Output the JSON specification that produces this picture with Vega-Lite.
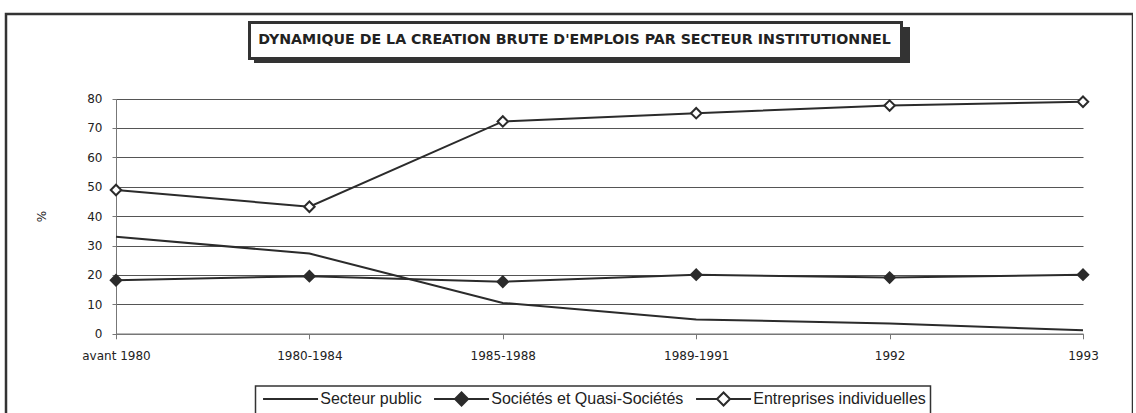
{
  "$schema": "https://vega.github.io/schema/vega-lite/v6.json",
  "autosize": {"type": "none"},
  "padding": {"left": 6, "top": 14, "right": 0, "bottom": 0},
  "width": 1127,
  "height": 420,
  "background": "white",
  "config": {
    "view": {"stroke": "#333333", "strokeWidth": 2.5},
    "font": "DejaVu Sans",
    "legend": {"strokeWidth": 1.5},
    "axis": {
      "labelFont": "DejaVu Sans",
      "labelFontSize": 12,
      "labelColor": "#222222",
      "domainColor": "#777777",
      "tickColor": "#777777",
      "titleFont": "DejaVu Sans",
      "titleFontSize": 12,
      "titleFontWeight": "normal",
      "titleColor": "#222222"
    }
  },
  "data": {
    "values": [
      {"periode": "avant 1980", "serie": "Secteur public", "valeur": 33.0},
      {"periode": "1980-1984", "serie": "Secteur public", "valeur": 27.3},
      {"periode": "1985-1988", "serie": "Secteur public", "valeur": 10.5},
      {"periode": "1989-1991", "serie": "Secteur public", "valeur": 4.9},
      {"periode": "1992", "serie": "Secteur public", "valeur": 3.5},
      {"periode": "1993", "serie": "Secteur public", "valeur": 1.2},
      {"periode": "avant 1980", "serie": "Sociétés et Quasi-Sociétés", "valeur": 18.2},
      {"periode": "1980-1984", "serie": "Sociétés et Quasi-Sociétés", "valeur": 19.6},
      {"periode": "1985-1988", "serie": "Sociétés et Quasi-Sociétés", "valeur": 17.7},
      {"periode": "1989-1991", "serie": "Sociétés et Quasi-Sociétés", "valeur": 20.1},
      {"periode": "1992", "serie": "Sociétés et Quasi-Sociétés", "valeur": 19.1},
      {"periode": "1993", "serie": "Sociétés et Quasi-Sociétés", "valeur": 20.1},
      {"periode": "avant 1980", "serie": "Entreprises individuelles", "valeur": 48.9},
      {"periode": "1980-1984", "serie": "Entreprises individuelles", "valeur": 43.2},
      {"periode": "1985-1988", "serie": "Entreprises individuelles", "valeur": 72.2},
      {"periode": "1989-1991", "serie": "Entreprises individuelles", "valeur": 75.0},
      {"periode": "1992", "serie": "Entreprises individuelles", "valeur": 77.6},
      {"periode": "1993", "serie": "Entreprises individuelles", "valeur": 78.9}
    ]
  },
  "layer": [
    {
      "mark": {"type": "line", "stroke": "#2b2b2b", "strokeWidth": 2},
      "encoding": {
        "x": {
          "field": "periode", "type": "ordinal",
          "sort": ["avant 1980", "1980-1984", "1985-1988", "1989-1991", "1992", "1993"],
          "scale": {"type": "point", "range": [110, 1077], "padding": 0},
          "axis": {"title": null, "offset": -100.2, "labelAngle": 0, "tickSize": 5, "labelPadding": 12, "grid": false, "domainWidth": 1.5}
        },
        "y": {
          "field": "valeur", "type": "quantitative",
          "scale": {"domain": [0, 80], "range": [319.8, 84.5], "nice": false},
          "axis": {"title": "%", "offset": -110, "values": [0, 10, 20, 30, 40, 50, 60, 70, 80], "grid": true, "gridColor": "#555555", "gridWidth": 1, "tickSize": 4, "labelPadding": 10, "titlePadding": 38}
        },
        "detail": {"field": "serie"}
      }
    },
    {
      "transform": [{"filter": "datum.serie !== 'Secteur public'"}],
      "mark": {"type": "point", "shape": "diamond", "size": 110, "filled": true, "stroke": "#2b2b2b", "strokeWidth": 2, "opacity": 1},
      "encoding": {
        "x": {"field": "periode", "type": "ordinal", "sort": ["avant 1980", "1980-1984", "1985-1988", "1989-1991", "1992", "1993"]},
        "y": {"field": "valeur", "type": "quantitative"},
        "fill": {
          "field": "serie", "type": "nominal",
          "scale": {"domain": ["Secteur public", "Sociétés et Quasi-Sociétés", "Entreprises individuelles"], "range": ["white", "#2b2b2b", "white"]}
        }
      }
    },
    {
      "transform": [{"filter": "false"}],
      "mark": {"type": "point", "filled": true, "strokeWidth": 2, "opacity": 1},
      "encoding": {
        "x": {"field": "periode", "type": "ordinal", "sort": ["avant 1980", "1980-1984", "1985-1988", "1989-1991", "1992", "1993"]},
        "y": {"field": "valeur", "type": "quantitative"},
        "shape": {
          "field": "serie", "type": "nominal",
          "scale": {
            "domain": ["Secteur public", "Sociétés et Quasi-Sociétés", "Entreprises individuelles"],
            "range": [
              "M-1,-0.9375M-1,0.9375M-0.65,0H6.225",
              "M-1,-0.9375M-1,0.9375M-0.65,0H1.975M3.6,0H6.225M1.975,0L2.7875,-0.8125L3.6,0L2.7875,0.8125Z",
              "M-1,-0.9375M-1,0.9375M-0.65,0H1.975M3.6,0H6.225M1.975,0L2.7875,-0.8125L3.6,0L2.7875,0.8125Z"
            ]
          },
          "legend": {
            "orient": "none", "legendX": 249.5, "legendY": 372, "direction": "horizontal", "title": null,
            "symbolSize": 256, "symbolStrokeWidth": 2, "labelOffset": 43,
            "labelFont": "Liberation Sans", "labelFontSize": 16, "labelColor": "#222222", "labelLimit": 1000,
            "columnPadding": 5, "padding": 3.75, "strokeColor": "#333333", "fillColor": "white"
          }
        },
        "fill": {
          "field": "serie", "type": "nominal",
          "scale": {"domain": ["Secteur public", "Sociétés et Quasi-Sociétés", "Entreprises individuelles"], "range": ["white", "#2b2b2b", "white"]}
        },
        "stroke": {
          "field": "serie", "type": "nominal",
          "scale": {"domain": ["Secteur public", "Sociétés et Quasi-Sociétés", "Entreprises individuelles"], "range": ["#2b2b2b", "#2b2b2b", "#2b2b2b"]}
        }
      }
    },
    {
      "data": {"values": [{"titre": "DYNAMIQUE DE LA CREATION BRUTE D'EMPLOIS PAR SECTEUR INSTITUTIONNEL", "ombre": "ombre"}]},
      "mark": {"type": "point", "opacity": 0, "filled": true},
      "encoding": {
        "strokeDash": {
          "field": "titre", "type": "nominal",
          "legend": {
            "orient": "none", "legendX": 243.5, "legendY": 8.5, "title": null,
            "symbolSize": 0, "symbolOpacity": 0, "labelOffset": -16,
            "labelFont": "DejaVu Sans", "labelFontSize": 14.2, "labelFontWeight": "bold", "labelColor": "#222222", "labelLimit": 2000,
            "padding": 10.5, "strokeColor": "#333333", "fillColor": "white", "zindex": 2,
            "encoding": {"legend": {"strokeWidth": {"value": 3}}}
          }
        },
        "color": {
          "field": "ombre", "type": "nominal",
          "scale": {"range": ["#333333"]},
          "legend": {
            "orient": "none", "legendX": 248, "legendY": 13, "title": null,
            "symbolType": "M-1,-1H64.6V2.6H-1Z", "symbolSize": 400, "symbolOpacity": 1, "symbolStrokeWidth": 0,
            "labelExpr": "''", "labelOffset": 0, "labelFontSize": 1,
            "padding": 0, "zindex": 1
          }
        }
      }
    }
  ]
}
